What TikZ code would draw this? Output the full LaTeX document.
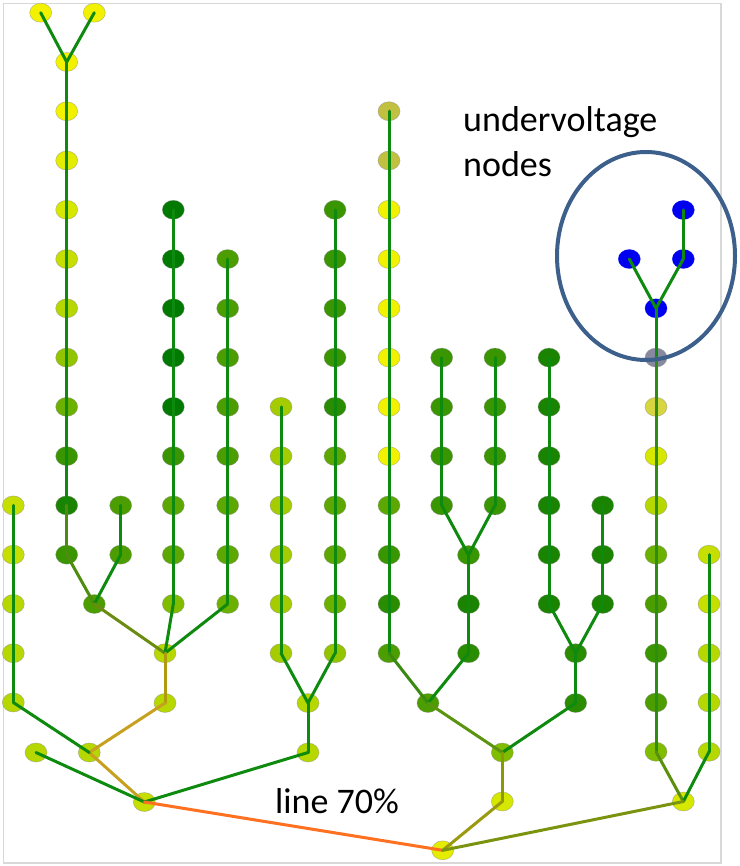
\documentclass[tikz,border=0pt]{standalone}
\usepackage{fontspec}
\setmainfont{Carlito}
\usetikzlibrary{shapes.geometric}
\definecolor{Y0}{HTML}{F2F200}
\definecolor{Y1}{HTML}{E4EC00}
\definecolor{Y2}{HTML}{D6E800}
\definecolor{Y3}{HTML}{C6DE00}
\definecolor{Y4}{HTML}{B6D800}
\definecolor{Y5}{HTML}{A4CC00}
\definecolor{Y6}{HTML}{92C400}
\definecolor{G0}{HTML}{80BC00}
\definecolor{G1}{HTML}{6CB000}
\definecolor{G2}{HTML}{5CA800}
\definecolor{G3}{HTML}{4C9E00}
\definecolor{G4}{HTML}{3A9600}
\definecolor{G5}{HTML}{2A8C00}
\definecolor{G6}{HTML}{1A8400}
\definecolor{G7}{HTML}{007A00}
\definecolor{K1}{HTML}{C2C040}
\definecolor{K2}{HTML}{D8D640}
\definecolor{GR}{HTML}{8888A0}
\definecolor{BL}{HTML}{0000F0}
\definecolor{eG}{HTML}{0E8A0E}
\definecolor{eOG}{HTML}{4E8C10}
\definecolor{eOG2}{HTML}{6A8C10}
\definecolor{eOG3}{HTML}{3A8A10}
\definecolor{eOG4}{HTML}{5A9410}
\definecolor{eN}{HTML}{2E8E14}
\definecolor{eGo1}{HTML}{B09A10}
\definecolor{eGo2}{HTML}{C8A020}
\definecolor{eOl1}{HTML}{8A9A00}
\definecolor{eOl2}{HTML}{9A9A10}
\definecolor{eOl3}{HTML}{7A9410}
\definecolor{eOl4}{HTML}{5A9010}
\definecolor{eOr}{HTML}{FF7020}
\definecolor{ell}{HTML}{3C5F8C}
\definecolor{frame}{HTML}{D8D8D8}
\begin{document}
\begin{tikzpicture}[x=1pt,y=-1pt,
  vn/.style={ellipse, minimum width=22pt, minimum height=19pt, inner sep=0pt,
    draw=black!45, draw opacity=0.5, line width=0.6pt},
  ed/.style={line width=3pt, line cap=round, draw=eG},
  lbl/.style={anchor=base west, inner sep=0pt, font=\fontsize{36}{43}\selectfont}]
\useasboundingbox (0,0) rectangle (739,866);
\draw[frame, line width=1.3pt] (3.3,3.3) rectangle (721,863);
% column nodes
\def\ry#1{12.7+49.27*#1}
\foreach \r/\c in {1/Y0,2/Y0,3/Y1,4/Y2,5/Y3,6/Y4,7/Y6,8/G1,9/G4,10/G6,11/G4}
  \node[vn,fill=\c] (a\r) at (66.7,{\ry{\r}}) {};
\node[vn,fill=Y0] (a0L) at (40.7,12.7) {};
\node[vn,fill=Y0] (a0R) at (94.3,12.7) {};
\foreach \r/\c in {10/G3,11/G3}
  \node[vn,fill=\c] (b\r) at (120.7,{\ry{\r}}) {};
\foreach \r/\c in {10/Y3,11/Y3,12/Y4,13/Y4,14/Y4}
  \node[vn,fill=\c] (c\r) at (13.3,{\ry{\r}}) {};
\foreach \r/\c in {4/G7,5/G7,6/G7,7/G7,8/G7,9/G4,10/G2,11/G2,12/G0}
  \node[vn,fill=\c] (d\r) at (173.3,{\ry{\r}}) {};
\foreach \r/\c in {5/G3,6/G3,7/G3,8/G3,9/G3,10/G2,11/G2,12/G1}
  \node[vn,fill=\c] (e\r) at (227.7,{\ry{\r}}) {};
\foreach \r/\c in {8/Y5,9/Y5,10/Y5,11/Y5,12/Y5,13/Y5}
  \node[vn,fill=\c] (f\r) at (281,{\ry{\r}}) {};
\foreach \r/\c in {4/G4,5/G4,6/G4,7/G4,8/G5,9/G2,10/G2,11/G2,12/G1,13/Y6}
  \node[vn,fill=\c] (h\r) at (335,{\ry{\r}}) {};
\foreach \r/\c in {2/K1,3/K1,4/Y0,5/Y0,6/Y0,7/Y0,8/Y0,9/Y0,10/G2,11/G4,12/G5,13/G3}
  \node[vn,fill=\c] (i\r) at (389,{\ry{\r}}) {};
\foreach \r in {7,...,10}
  \node[vn,fill=G4] (j\r) at (441.7,{\ry{\r}}) {};
\foreach \r in {7,...,10}
  \node[vn,fill=G4] (k\r) at (495,{\ry{\r}}) {};
\foreach \r in {7,...,12}
  \node[vn,fill=G6] (l\r) at (549,{\ry{\r}}) {};
\foreach \r in {10,...,12}
  \node[vn,fill=G6] (m\r) at (602.7,{\ry{\r}}) {};
\foreach \r/\c in {7/GR,8/K2,9/Y2,10/Y4,11/G1,12/G3,13/G4,14/G3,15/G0}
  \node[vn,fill=\c] (n\r) at (656,{\ry{\r}}) {};
\foreach \r/\c in {11/Y3,12/Y3,13/Y4,14/Y4,15/Y4}
  \node[vn,fill=\c] (o\r) at (709,{\ry{\r}}) {};
% undervoltage nodes
\node[vn,fill=BL,draw=BL] (u1) at (683.3,210) {};
\node[vn,fill=BL,draw=BL] (u2) at (629.3,259) {};
\node[vn,fill=BL,draw=BL] (u3) at (683.3,259) {};
\node[vn,fill=BL,draw=BL] (u4) at (656,308.3) {};
% junction nodes
\node[vn,fill=G3] (q1) at (94.3,604) {};
\node[vn,fill=Y4] (q2) at (165,653.2) {};
\node[vn,fill=Y4] (q3) at (165,703) {};
\node[vn,fill=Y4] (q4) at (89.3,752.5) {};
\node[vn,fill=Y4] (q5) at (36,752.5) {};
\node[vn,fill=Y3] (q6) at (144.3,802) {};
\node[vn,fill=Y4] (q7) at (308,703) {};
\node[vn,fill=Y4] (q8) at (308,752.5) {};
\node[vn,fill=G4] (q9) at (468.5,555) {};
\node[vn,fill=G6] (q10) at (468.5,604) {};
\node[vn,fill=G5] (q11) at (468.5,653.2) {};
\node[vn,fill=G3] (q12) at (428,703) {};
\node[vn,fill=G5] (q13) at (575.7,653.2) {};
\node[vn,fill=G5] (q14) at (575.7,703) {};
\node[vn,fill=G0] (q15) at (502.3,752.5) {};
\node[vn,fill=Y2] (q16) at (502.3,801.5) {};
\node[vn,fill=Y1] (q17) at (442.7,850.3) {};
\node[vn,fill=Y2] (q18) at (683.3,801.5) {};
% column chains
\foreach \col/\a/\b in {a/1/10,c/10/14,d/4/12,e/5/12,f/8/13,h/4/13,i/2/13,j/7/10,k/7/10,l/7/12,m/10/12,o/11/15}{
  \foreach \r [evaluate=\r as \s using int(\r+1)] in {\a,...,\b}{
    \ifnum\r<\b\relax \draw[ed] (\col\r.center) -- (\col\s.center);\fi
  }
}
\draw[ed] (b10.center) -- (b11.center);
\draw[ed] (a0L.center) -- (a1.center);
\draw[ed] (a0R.center) -- (a1.center);
\draw[ed,draw=eOG] (a10.center) -- (a11.center);
\draw[ed,draw=eOG] (a11.center) -- (q1.center);
\draw[ed] (b11.center) -- (q1.center);
\draw[ed,draw=eOG2] (q1.center) -- (q2.center);
\draw[ed] (d12.center) -- (q2.center);
\draw[ed] (e12.center) -- (q2.center);
\draw[ed,draw=eGo1] (q2.center) -- (q3.center);
\draw[ed,draw=eGo2] (q3.center) -- (q4.center);
\draw[ed,draw=eGo2] (q4.center) -- (q6.center);
\draw[ed] (c14.center) -- (q4.center);
\draw[ed] (q5.center) -- (q6.center);
\draw[ed] (q6.center) -- (q8.center);
\draw[ed] (q8.center) -- (q7.center);
\draw[ed] (q7.center) -- (f13.center);
\draw[ed] (q7.center) -- (h13.center);
\draw[ed,draw=eOr] (q6.center) -- (q17.center);
\draw[ed,draw=eOG3] (i13.center) -- (q12.center);
\draw[ed] (j10.center) -- (q9.center);
\draw[ed] (k10.center) -- (q9.center);
\draw[ed] (q9.center) -- (q10.center);
\draw[ed] (q10.center) -- (q11.center);
\draw[ed] (q11.center) -- (q12.center);
\draw[ed,draw=eOG4] (q12.center) -- (q15.center);
\draw[ed] (l12.center) -- (q13.center);
\draw[ed] (m12.center) -- (q13.center);
\draw[ed] (q13.center) -- (q14.center);
\draw[ed] (q14.center) -- (q15.center);
\draw[ed,draw=eOl1] (q15.center) -- (q16.center);
\draw[ed,draw=eOl2] (q16.center) -- (q17.center);
\draw[ed] (u1.center) -- (u3.center);
\draw[ed] (u3.center) -- (u4.center);
\draw[ed] (u2.center) -- (u4.center);
\draw[ed] (u4.center) -- (n7.center);
\foreach \r [evaluate=\r as \s using int(\r+1)] in {7,...,14}
  \draw[ed,draw=eN] (n\r.center) -- (n\s.center);
\draw[ed,draw=eOl4] (n15.center) -- (q18.center);
\draw[ed] (o15.center) -- (q18.center);
\draw[ed,draw=eOl3] (q18.center) -- (q17.center);
% highlight ellipse
\draw[ell, line width=4pt] (646,256) ellipse [x radius=89pt, y radius=104pt];
% labels
\node[lbl] (t1) at (463,132) {undervoltage};
\node[lbl] (t2) at (463,177) {nodes};
\node[lbl] (t3) at (275,813) {line 70\%};
\end{tikzpicture}
\end{document}
